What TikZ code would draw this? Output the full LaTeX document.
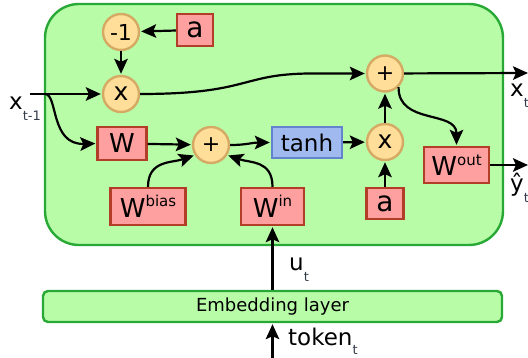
\documentclass[tikz,border=0pt]{standalone}
\usepackage{fontspec}
\setmainfont{DejaVu Sans}
\usetikzlibrary{arrows.meta}
\definecolor{bgG}{RGB}{184,252,168}
\definecolor{bdG}{RGB}{40,168,52}
\definecolor{cF}{RGB}{255,222,153}
\definecolor{cB}{RGB}{212,170,100}
\definecolor{rF}{RGB}{255,160,160}
\definecolor{rB}{RGB}{178,62,40}
\definecolor{bF}{RGB}{160,186,240}
\definecolor{bB}{RGB}{100,130,205}
\definecolor{subc}{RGB}{50,60,72}
\newcommand{\myfs}[1]{\fontsize{#1}{#1}\selectfont}
\newcommand{\Wsup}[2]{W\raisebox{#2}{\myfs{15}#1}}
\newcommand{\lsub}[2][-10.5pt]{\raisebox{#1}{\myfs{13}\color{subc}#2}}
\begin{document}
\begin{tikzpicture}[x=1pt,y=-1pt,
  circ/.style={circle, draw=cB, fill=cF, line width=2.4pt, minimum size=36pt, inner sep=0pt, font=\myfs{22}},
  rbox/.style={draw=rB, fill=rF, line width=2.4pt, inner sep=0pt, font=\myfs{26}},
  bbox/.style={draw=bB, fill=bF, line width=2.4pt, inner sep=0pt, font=\myfs{23}},
  embbox/.style={draw=bdG, fill=bgG, line width=2.4pt, rounded corners=5pt, inner sep=0pt, font=\myfs{18}},
  lbl/.style={inner sep=0pt, anchor=base west, font=\myfs{23}},
  arr/.style={line width=2.2pt, -{Stealth[length=15pt,width=13.5pt,inset=3pt]}, shorten >=1pt},
]
\useasboundingbox (0,0) rectangle (528,358);
\draw[draw=bdG, fill=bgG, line width=2.4pt, rounded corners=34pt] (45,4) rectangle (503,245);

\node[circ] (m1) at (121,32) {-1};
\node[rbox, minimum width=36pt, minimum height=32pt, font=\myfs{28}] (a1) at (195,30) {a};
\node[circ, font=\myfs{25}] (x1) at (121,94) {x};
\node[rbox, minimum width=49pt, minimum height=33pt] (W) at (122,143.5) {W};
\node[circ] (p1) at (211,145) {+};
\node[bbox, minimum width=70pt, minimum height=31pt] (tanh) at (307,142.5) {tanh};
\node[circ, font=\myfs{25}] (x2) at (385,142) {x};
\node[circ] (p2) at (385,73.5) {+};
\node[rbox, minimum width=65pt, minimum height=36pt] (Wout) at (456.5,165) {\Wsup{out}{10pt}};
\node[rbox, minimum width=75pt, minimum height=37pt] (Wb) at (148,206.5) {\Wsup{bias}{11pt}};
\node[rbox, minimum width=63pt, minimum height=37pt] (Win) at (272.5,206.5) {\Wsup{in}{11pt}};
\node[rbox, minimum width=37pt, minimum height=31pt, font=\myfs{28}] (a2) at (385,203.5) {a};
\node[embbox, minimum width=459pt, minimum height=31pt] (emb) at (272.5,306.5) {Embedding layer};

\node[lbl] (lx) at (9,110) {x\lsub{t-1}};
\node[lbl] (lxt) at (510,97) {x\lsub{t}};
\node[lbl] (lyt) at (510,192) {ŷ\lsub{t}};
\node[lbl] (lu) at (289,271) {u\lsub{t}};
\node[lbl] (ltk) at (288,346) {token\lsub[-8.5pt]{t}};

\coordinate (xs) at (30,94);
\coordinate (xb) at (45,94);
\coordinate (xo) at (529,73);
\coordinate (yo) at (529,165);
\coordinate (tk) at (272.5,358);

\draw[arr] (a1) -- (m1);
\draw[arr] (m1) -- (x1);
\draw[arr] (xs) -- (x1);
\draw[arr] (xb) .. controls (58,94) and (50,145) .. (W.west);
\draw[arr] (x1.east) .. controls (250,94) and (240,74) .. (310,73.5) -- (p2.west);
\draw[arr] (W) -- (p1);
\draw[arr] (Wb.north) .. controls (148,160) and (172,163) .. (p1.212);
\draw[arr] (Win.north) .. controls (272.5,160) and (250,163) .. (p1.-32);
\draw[arr] (p1.east) .. controls (247,145) and (252,142.5) .. (tanh.west);
\draw[arr] (tanh) -- (x2);
\draw[arr] (a2) -- (x2);
\draw[arr] (x2) -- (p2);
\draw[arr] (p2) -- (xo);
\draw[arr] (p2.-45) .. controls (398,125) and (456.5,110) .. (Wout.north);
\draw[arr] (Wout) -- (yo);
\draw[arr] (emb) -- (Win);
\draw[arr] (tk) -- (emb);
\end{tikzpicture}
\end{document}
